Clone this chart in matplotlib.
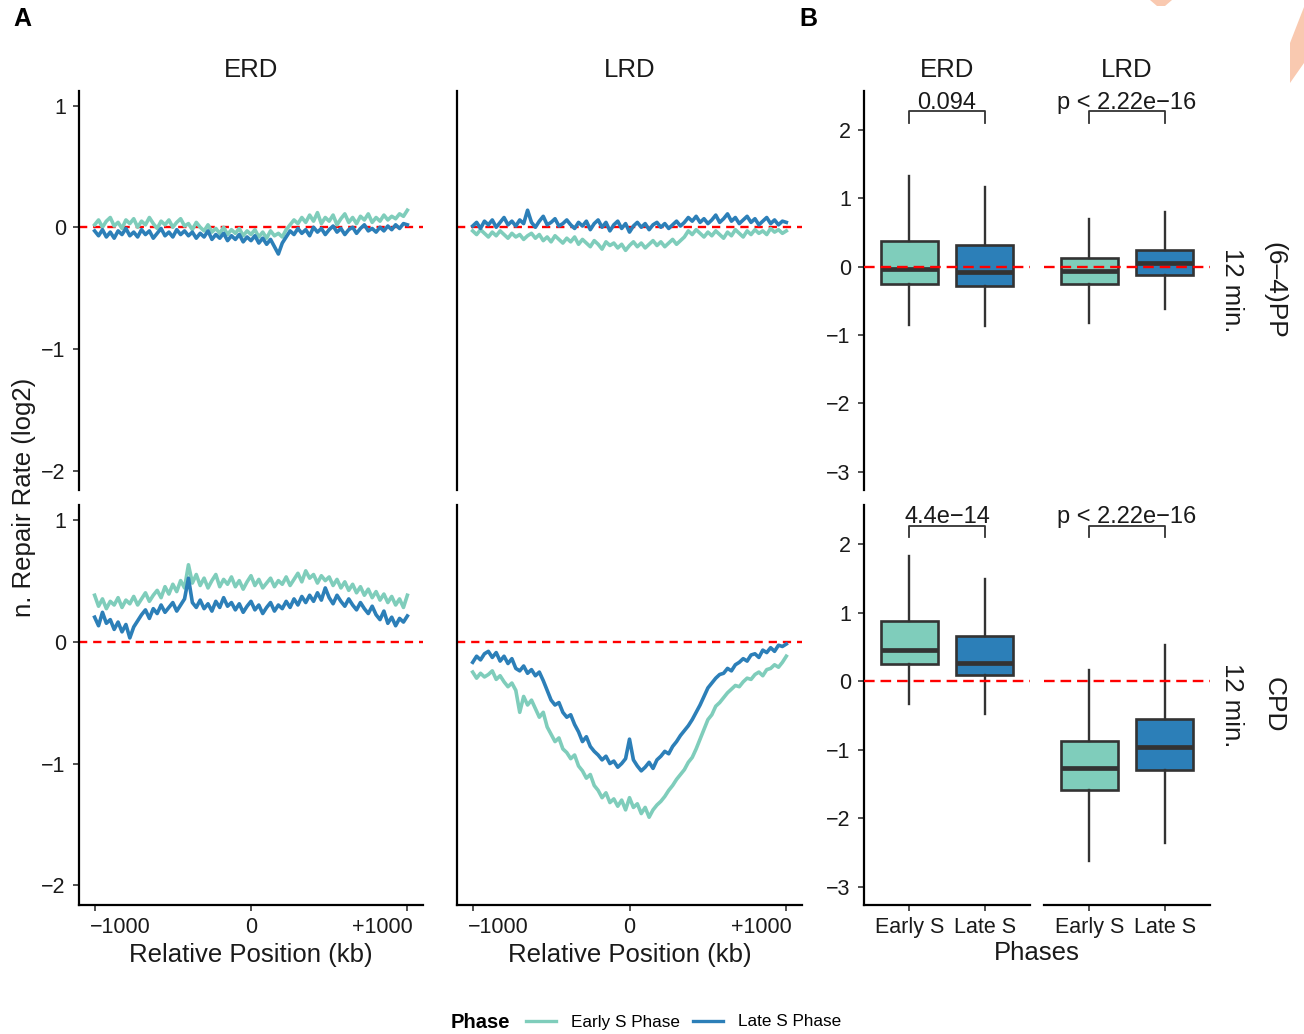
import matplotlib
matplotlib.use("Agg")
import matplotlib.pyplot as plt
from matplotlib.lines import Line2D
from matplotlib.patches import Polygon
from matplotlib.transforms import ScaledTranslation

plt.rcParams['font.family'] = ['Liberation Sans', 'DejaVu Sans']

# ---------------- data ----------------
positions_kb = list(range(-1000, 1001, 25))
phases = ["Early S Phase", "Late S Phase"]
regions = ["ERD", "LRD"]
lesions = ["(6–4)PP", "CPD"]
time_label = "12 min."
box_labels = ["Early S", "Late S"]
x_tick_values = [-1000, 0, 1000]
x_tick_labels = ["−1000", "0", "+1000"]

early_erd_64 = [0.02, 0.06, 0.00, 0.05, 0.08, 0.01, 0.04, -0.01, 0.06, 0.03, 0.07, 0.00,
                0.05, 0.02, 0.08, 0.03, -0.01, 0.05, 0.02, 0.06, 0.00, 0.04, 0.07, 0.01,
                0.03, -0.02, 0.04, 0.00, -0.03, 0.02, -0.04, -0.01, -0.05, 0.00, -0.06, -0.02,
                -0.05, -0.01, -0.07, -0.03, -0.06, -0.02, -0.08, -0.04, -0.09, -0.03, -0.07, -0.05,
                -0.08, -0.02, 0.02, 0.06, 0.03, 0.08, 0.04, 0.10, 0.05, 0.12, 0.03, 0.08,
                0.05, 0.10, 0.02, 0.07, 0.11, 0.04, 0.08, 0.03, 0.09, 0.06, 0.11, 0.04,
                0.08, 0.05, 0.10, 0.06, 0.09, 0.07, 0.11, 0.09, 0.14]
late_erd_64 = [-0.03, -0.07, -0.02, -0.08, -0.04, -0.09, -0.03, -0.06, -0.01, -0.07, -0.04, -0.08,
               -0.02, -0.06, -0.03, -0.09, -0.05, -0.01, -0.07, -0.04, -0.08, -0.02, -0.06, -0.03,
               -0.07, -0.04, -0.09, -0.05, -0.08, -0.03, -0.10, -0.06, -0.09, -0.05, -0.11, -0.07,
               -0.10, -0.06, -0.12, -0.08, -0.11, -0.07, -0.13, -0.09, -0.14, -0.10, -0.16, -0.22,
               -0.13, -0.08, -0.03, -0.06, -0.01, -0.05, -0.02, -0.07, 0.00, -0.04, -0.01, -0.06,
               -0.02, 0.01, -0.04, -0.01, -0.06, -0.02, 0.00, -0.05, -0.01, 0.02, -0.03, -0.01,
               -0.04, 0.00, -0.03, 0.01, -0.02, 0.02, -0.01, 0.03, 0.02]
early_lrd_64 = [-0.03, -0.06, -0.02, -0.05, -0.08, -0.04, -0.07, -0.03, -0.06, -0.09, -0.05, -0.08,
                -0.06, -0.10, -0.07, -0.05, -0.09, -0.06, -0.11, -0.08, -0.12, -0.07, -0.10, -0.13,
                -0.09, -0.12, -0.08, -0.14, -0.10, -0.13, -0.16, -0.11, -0.14, -0.18, -0.12, -0.15,
                -0.13, -0.17, -0.14, -0.19, -0.15, -0.12, -0.16, -0.13, -0.17, -0.14, -0.11, -0.15,
                -0.12, -0.16, -0.13, -0.10, -0.14, -0.11, -0.08, -0.03, -0.06, -0.02, -0.05, -0.08,
                -0.04, -0.07, -0.03, -0.06, -0.09, -0.04, -0.07, -0.02, -0.05, -0.08, -0.03, -0.06,
                -0.02, -0.05, -0.03, -0.06, -0.01, -0.04, -0.02, -0.05, -0.03]
late_lrd_64 = [0.01, 0.04, -0.01, 0.05, 0.02, 0.06, 0.00, 0.04, 0.08, 0.02, 0.05, 0.01,
               0.06, 0.03, 0.14, 0.04, 0.00, 0.05, 0.09, 0.02, 0.04, 0.07, 0.01, 0.03,
               0.06, 0.02, -0.01, 0.04, 0.01, 0.05, -0.02, 0.03, 0.06, 0.00, 0.04, -0.03,
               0.02, 0.05, -0.01, 0.03, -0.04, 0.01, 0.04, 0.00, 0.03, -0.02, 0.02, 0.04,
               0.00, 0.03, -0.01, 0.02, 0.05, 0.01, 0.04, 0.08, 0.05, 0.09, 0.04, 0.07,
               0.03, 0.06, 0.10, 0.04, 0.07, 0.11, 0.05, 0.08, 0.03, 0.06, 0.09, 0.04,
               0.07, 0.02, 0.05, 0.08, 0.03, 0.06, 0.02, 0.05, 0.04]
early_erd_cpd = [0.38, 0.29, 0.35, 0.27, 0.33, 0.30, 0.36, 0.28, 0.34, 0.31, 0.37, 0.30,
                 0.35, 0.40, 0.33, 0.38, 0.42, 0.36, 0.45, 0.39, 0.47, 0.41, 0.50, 0.44,
                 0.63, 0.48, 0.55, 0.46, 0.52, 0.44, 0.50, 0.55, 0.45, 0.51, 0.47, 0.53,
                 0.45, 0.50, 0.43, 0.49, 0.54, 0.46, 0.51, 0.44, 0.48, 0.52, 0.45, 0.50,
                 0.47, 0.53, 0.46, 0.51, 0.56, 0.49, 0.58, 0.52, 0.55, 0.48, 0.54, 0.50,
                 0.53, 0.46, 0.51, 0.44, 0.49, 0.42, 0.47, 0.40, 0.45, 0.38, 0.43, 0.36,
                 0.41, 0.34, 0.39, 0.32, 0.37, 0.30, 0.35, 0.28, 0.38]
late_erd_cpd = [0.20, 0.13, 0.24, 0.15, 0.18, 0.10, 0.16, 0.08, 0.14, 0.03, 0.12, 0.17,
                0.22, 0.26, 0.19, 0.27, 0.23, 0.30, 0.24, 0.28, 0.32, 0.25, 0.30, 0.35,
                0.52, 0.32, 0.28, 0.34, 0.27, 0.31, 0.25, 0.33, 0.28, 0.36, 0.29, 0.32,
                0.26, 0.31, 0.24, 0.29, 0.33, 0.26, 0.30, 0.23, 0.28, 0.32, 0.25, 0.30,
                0.27, 0.33, 0.28, 0.35, 0.30, 0.37, 0.32, 0.38, 0.33, 0.40, 0.34, 0.44,
                0.36, 0.31, 0.38, 0.33, 0.29, 0.35, 0.30, 0.26, 0.32, 0.27, 0.23, 0.29,
                0.22, 0.18, 0.25, 0.15, 0.20, 0.13, 0.19, 0.16, 0.21]
early_lrd_cpd = [-0.25, -0.30, -0.26, -0.29, -0.27, -0.24, -0.31, -0.28,
                 -0.33, -0.37, -0.34, -0.40, -0.58, -0.45, -0.52, -0.48,
                 -0.55, -0.62, -0.58, -0.70, -0.76, -0.82, -0.79, -0.88,
                 -0.91, -0.96, -0.93, -1.02, -1.06, -1.12, -1.09, -1.18,
                 -1.22, -1.28, -1.24, -1.32, -1.29, -1.35, -1.30, -1.38,
                 -1.28, -1.36, -1.33, -1.41, -1.36, -1.44, -1.38, -1.34,
                 -1.31, -1.27, -1.22, -1.18, -1.13, -1.09, -1.05, -0.99,
                 -0.95, -0.88, -0.80, -0.72, -0.64, -0.60, -0.53, -0.50,
                 -0.46, -0.42, -0.39, -0.36, -0.37, -0.33, -0.30, -0.31,
                 -0.27, -0.25, -0.28, -0.23, -0.22, -0.19, -0.21, -0.17, -0.12]
late_lrd_cpd = [-0.17, -0.12, -0.15, -0.10, -0.08, -0.13, -0.09, -0.16,
                -0.12, -0.18, -0.14, -0.22, -0.24, -0.20, -0.26, -0.23,
                -0.28, -0.25, -0.32, -0.40, -0.48, -0.52, -0.50, -0.58,
                -0.62, -0.60, -0.68, -0.74, -0.82, -0.78, -0.86, -0.90,
                -0.93, -0.97, -0.94, -1.00, -0.98, -1.03, -1.00, -0.96,
                -0.80, -0.97, -1.02, -1.06, -1.03, -0.99, -1.04, -0.97,
                -0.94, -0.90, -0.92, -0.86, -0.82, -0.77, -0.73, -0.69,
                -0.64, -0.58, -0.52, -0.45, -0.38, -0.34, -0.30, -0.27,
                -0.26, -0.22, -0.24, -0.19, -0.17, -0.14, -0.16, -0.11,
                -0.10, -0.13, -0.07, -0.09, -0.05, -0.08, -0.03, -0.04, -0.02]

# box stats: [whislo, q1, median, q3, whishi]
box_64_erd_early = [-0.85, -0.25, -0.04, 0.37, 1.33]
box_64_erd_late = [-0.87, -0.28, -0.08, 0.31, 1.17]
box_64_lrd_early = [-0.83, -0.25, -0.07, 0.13, 0.69]
box_64_lrd_late = [-0.62, -0.12, 0.05, 0.25, 0.80]
box_cpd_erd_early = [-0.33, 0.245, 0.45, 0.88, 1.82]
box_cpd_erd_late = [-0.48, 0.09, 0.27, 0.66, 1.49]
box_cpd_lrd_early = [-2.63, -1.59, -1.27, -0.87, 0.16]
box_cpd_lrd_late = [-2.37, -1.30, -0.97, -0.56, 0.52]
pvals_64 = ["0.094", "p < 2.22e−16"]
pvals_cpd = ["4.4e−14", "p < 2.22e−16"]

TEAL = "#7fcdbb"
BLUE = "#2c7fb8"
EDGE = "#333333"
TXT = "#1a1a1a"

W, H = 1304, 1034
fig = plt.figure(figsize=(W / 100, H / 100), dpi=100)


def ax_at(x0, y0, x1, y1):
    return fig.add_axes([x0 / W, 1 - y1 / H, (x1 - x0) / W, (y1 - y0) / H])


FS_TICK = 15.5
FS_TITLE = 18.5


def style(ax, left, bottom, showleft=True):
    for s in ["top", "right"]:
        ax.spines[s].set_visible(False)
    ax.spines["left"].set_visible(showleft)
    ax.spines["bottom"].set_visible(bottom)
    for s in ["left", "bottom"]:
        ax.spines[s].set_linewidth(1.6)
        ax.spines[s].set_color("black")
    ax.tick_params(axis="both", length=4.5, width=1.2, color="#333333", labelsize=FS_TICK,
                   labelcolor=TXT)
    ax.tick_params(axis="y", pad=5)
    ax.tick_params(axis="x", pad=4)
    if not left:
        ax.tick_params(axis="y", left=False, labelleft=False)
    if not bottom:
        ax.tick_params(axis="x", bottom=False, labelbottom=False)
    ax.set_facecolor("none")


# ---------------- panel A ----------------
series = {
    (0, 0): (early_erd_64, late_erd_64),
    (0, 1): (early_lrd_64, late_lrd_64),
    (1, 0): (early_erd_cpd, late_erd_cpd),
    (1, 1): (early_lrd_cpd, late_lrd_cpd),
}
rows_y = [(91, 490), (505, 905)]
colsA = [(79, 423), (457, 802)]
for (r, c), (e, l) in series.items():
    y0, y1 = rows_y[r]
    x0, x1 = colsA[c]
    ax = ax_at(x0, y0, x1, y1)
    style(ax, left=(c == 0), bottom=(r == 1))
    ax.axhline(0, color="red", lw=1.7, ls=(0, (3.5, 2.5)), zorder=1)
    ax.plot(positions_kb, e, color=TEAL, lw=2.6, zorder=2, solid_joinstyle="round")
    ax.plot(positions_kb, l, color=BLUE, lw=2.6, zorder=3, solid_joinstyle="round")
    ax.set_xlim(-1100, 1100)
    ax.set_ylim(-2.16, 1.12)
    ax.set_yticks([1, 0, -1, -2])
    ax.set_xticks(x_tick_values)
    ax.set_xticklabels(x_tick_labels)
    if r == 0:
        ax.set_title(regions[c], fontsize=FS_TITLE, pad=10, color=TXT)
    if r == 1:
        ax.set_xlabel("Relative Position (kb)", fontsize=FS_TITLE, labelpad=4, color=TXT)
        tl = ax.get_xticklabels()
        tl[0].set_ha("left")
        tl[0].set_transform(tl[0].get_transform() + ScaledTranslation(-5 / 100, 0, fig.dpi_scale_trans))
        tl[-1].set_ha("right")
        tl[-1].set_transform(tl[-1].get_transform() + ScaledTranslation(5 / 100, 0, fig.dpi_scale_trans))

fig.text(24 / W, 1 - 497 / H, "n. Repair Rate (log2)", rotation=90, fontsize=FS_TITLE,
         ha="center", va="center", color=TXT)

# ---------------- panel B ----------------
boxes = {
    (0, 0): (box_64_erd_early, box_64_erd_late, pvals_64[0]),
    (0, 1): (box_64_lrd_early, box_64_lrd_late, pvals_64[1]),
    (1, 0): (box_cpd_erd_early, box_cpd_erd_late, pvals_cpd[0]),
    (1, 1): (box_cpd_lrd_early, box_cpd_lrd_late, pvals_cpd[1]),
}
colsB = [(864, 1030), (1044, 1210)]
for (r, c), (be, bl, pv) in boxes.items():
    y0, y1 = rows_y[r]
    x0, x1 = colsB[c]
    ax = ax_at(x0, y0, x1, y1)
    style(ax, left=(c == 0), bottom=(r == 1), showleft=(c == 0))
    stats = []
    for lab, b in zip(box_labels, (be, bl)):
        stats.append(dict(label=lab, whislo=b[0], q1=b[1], med=b[2], q3=b[3], whishi=b[4], fliers=[]))
    bp = ax.bxp(stats, positions=[1, 2], widths=0.75, patch_artist=True, showcaps=False,
                showfliers=False,
                boxprops=dict(edgecolor=EDGE, linewidth=1.9),
                whiskerprops=dict(color=EDGE, linewidth=1.7),
                medianprops=dict(color=EDGE, linewidth=3.4, solid_capstyle="butt"),
                zorder=2)
    for patch, col in zip(bp["boxes"], (TEAL, BLUE)):
        patch.set_facecolor(col)
    ax.axhline(0, color="red", lw=1.7, ls=(0, (4.5, 2.5)), zorder=3)
    ax.set_xlim(0.4, 2.6)
    ax.set_ylim(-3.27, 2.57)
    ax.set_yticks([2, 1, 0, -1, -2, -3])
    # significance bracket
    ax.plot([1, 1, 2, 2], [2.10, 2.27, 2.27, 2.10], color="#333333", lw=1.3, zorder=4,
            clip_on=False)
    ax.text(1.5, 2.31, pv, ha="center", va="baseline", fontsize=FS_TICK + 1.5, color=TXT)
    if r == 0:
        ax.set_title(regions[c], fontsize=FS_TITLE, pad=10, color=TXT)
    if r == 1:
        ax.set_xticks([1, 2])
        ax.set_xticklabels(box_labels)

for r, (y0, y1) in enumerate(rows_y):
    yc = 1 - (y0 + y1) / 2 / H
    fig.text(1232 / W, yc, time_label, rotation=270, fontsize=FS_TITLE, ha="center", va="center",
             color=TXT)
    fig.text(1274 / W, yc, lesions[r], rotation=270, fontsize=FS_TITLE + 0.5, ha="center", va="center",
             color=TXT)

fig.text(1037 / W, 1 - 953 / H, "Phases", fontsize=FS_TITLE, ha="center", va="center", color=TXT)

# panel letters
fig.text(22 / W, 1 - 19 / H, "A", fontsize=18, fontweight="bold", ha="center", va="center")
fig.text(808 / W, 1 - 19 / H, "B", fontsize=18, fontweight="bold", ha="center", va="center")

# legend
fig.text(480 / W, 1 - 1022 / H, "Phase", fontsize=14.5, fontweight="bold", ha="center", va="center")
handles = [Line2D([], [], color=TEAL, lw=2.4), Line2D([], [], color=BLUE, lw=2.4)]
leg = fig.legend(handles, phases, loc="center left", bbox_to_anchor=(526 / W, 1 - 1022 / H),
                 ncol=2, frameon=False, fontsize=12.3, handlelength=1.75, handletextpad=0.9,
                 columnspacing=0.75, borderaxespad=0, borderpad=0)

# decorative page-crop marks at top right
fig.patches.append(Polygon([[1150 / W, 1.0], [1172 / W, 1.0], [1165 / W, 1 - 6 / H], [1157 / W, 1 - 6 / H]],
                           closed=True, transform=fig.transFigure, color="#f9c9b0", lw=0))
fig.patches.append(Polygon([[1290 / W, 1 - 43 / H], [1304 / W, 1 - 7 / H], [1304 / W, 1 - 63 / H], [1290 / W, 1 - 83 / H]],
                           closed=True, transform=fig.transFigure, color="#f9c9b0", lw=0))

fig.savefig("out.png", dpi=100)
